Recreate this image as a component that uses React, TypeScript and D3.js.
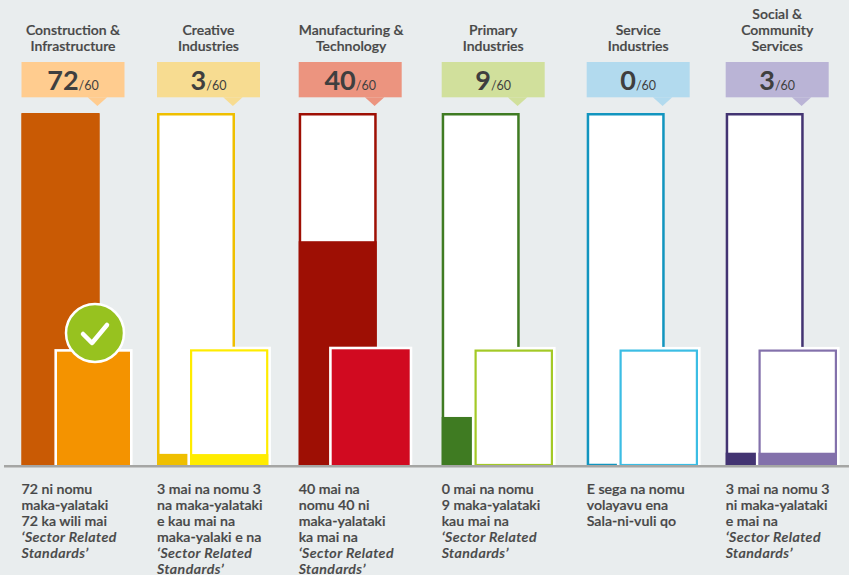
import React from "react";
import * as d3 from "d3";

const categories = ["Construction & Infrastructure", "Creative Industries", "Manufacturing & Technology", "Primary Industries", "Service Industries", "Social & Community Services"];
const headerLines = [["Construction &", "Infrastructure"], ["Creative", "Industries"], ["Manufacturing &", "Technology"], ["Primary", "Industries"], ["Service", "Industries"], ["Social &", "Community", "Services"]];
const scores = [72, 3, 40, 9, 0, 3];
const maxScore = 60;
// heights, in score units of the tall bar (0-60)
const backFill = [60, 1.9, 38.2, 8.2, 0, 2.1];
// short bar, full height = 60
const frontFill = [60, 5.7, 60, 0, 0, 6.4];
const descriptions = [
  [["72 ni nomu"], ["maka-yalataki"], ["72 ka wili mai"], ["‘Sector Related", 1], ["Standards’", 1]],
  [["3 mai na nomu 3"], ["na maka-yalataki"], ["e kau mai na"], ["maka-yalaki e na"], ["‘Sector Related", 1], ["Standards’", 1]],
  [["40 mai na"], ["nomu 40 ni"], ["maka-yalataki"], ["ka mai na"], ["‘Sector Related", 1], ["Standards’", 1]],
  [["0 mai na nomu"], ["9 maka-yalataki"], ["kau mai na"], ["‘Sector Related", 1], ["Standards’", 1]],
  [["E sega na nomu"], ["volayavu ena"], ["Sala-ni-vuli qo"]],
  [["3 mai na nomu 3"], ["ni maka-yalataki"], ["e mai na"], ["‘Sector Related", 1], ["Standards’", 1]],
] as [string, number?][][];

const calloutColors = ["#ffcc8f", "#f7dc91", "#ec947f", "#d1e09c", "#b2daee", "#bab4d6"];
const backColors = ["#c95a04", "#efbf00", "#9e0f04", "#3f7b22", "#1295bf", "#433472"];
const frontColors = ["#f49300", "#ffec00", "#d10a20", "#a3c926", "#3bbde4", "#8371ab"];

const backX = d3.scaleOrdinal<string, number>().domain(categories).range([21.5, 157, 298.7, 441.7, 586.7, 725.7]);
const frontX = d3.scaleOrdinal<string, number>().domain(categories).range([57, 190, 331.7, 474.5, 619.5, 758.5]);
const frontW = [73, 78.3, 78, 78.5, 78.5, 78.5];
const frontTopY = [351.7, 349.3, 349.3, 349.5, 349.5, 349.5];
const baseY = 465;
const yBack = d3.scaleLinear().domain([0, maxScore]).range([baseY, 113.5]);
const yFront = d3.scaleLinear().domain([0, maxScore]).range([baseY, 350]);

const BACK_W = 78;
const CALLOUT_W = 103;
const HALO = 2.6;
const SW = 2.2;
const FONT = "Lato, 'Noto Sans', sans-serif";
const INK = "#474747";

export default function App() {
  return (
    <svg width={849} height={575} style={{ position: "absolute", left: 0, top: 0, background: "#e9edee" }} fontFamily={FONT}>
      {categories.map((c, i) => {
        const bx = backX(c);
        const fx = frontX(c);
        const fw = frontW[i];
        const ftop = frontTopY[i];
        const full = frontFill[i] === maxScore;
        const ff = yFront(frontFill[i]);
        const by = yBack(backFill[i]);
        const tipX = bx + 75.9;
        const cx = bx + CALLOUT_W / 2;
        const n = headerLines[i].length;
        return (
          <g key={c}>
            {headerLines[i].map((t, k) => (
              <text key={k} x={cx + (i === 2 ? 1 : 0)} y={51 - (n - 1 - k) * 16} textAnchor="middle" fontSize={14} fontWeight={600} fill={INK} stroke={INK} strokeWidth={0.2}>{t}</text>
            ))}
            <rect x={bx} y={62} width={CALLOUT_W} height={35.3} fill={calloutColors[i]} />
            <path d={`M${tipX - 9.7},97.3L${tipX},106L${tipX + 9.7},97.3Z`} fill={calloutColors[i]} />
            <text x={cx} y={90} textAnchor="middle" fill="#3f3f3f">
              <tspan fontSize={27} fontWeight={700}>{scores[i]}</tspan>
              <tspan fontSize={12.5} fontWeight={400}>/{maxScore}</tspan>
            </text>

            <rect x={bx + 1.25} y={114.25} width={BACK_W - 2.5} height={baseY - 114.25} fill="#fff" stroke={backColors[i]} strokeWidth={2.5} />
            {backFill[i] > 0 && <rect x={bx} y={by} width={BACK_W} height={baseY - by} fill={backColors[i]} />}

            <rect x={fx - HALO} y={ftop - HALO} width={fw + 2 * HALO} height={baseY - ftop + HALO} fill="#fff" />
            {full ? (
              <rect x={fx} y={ftop} width={fw} height={baseY - ftop} fill={frontColors[i]} />
            ) : (
              <>
                <rect x={fx + SW / 2} y={ftop + SW / 2} width={fw - SW} height={baseY - ftop - SW / 2} fill="#fff" stroke={frontColors[i]} strokeWidth={SW} />
                {frontFill[i] > 0 && <rect x={fx} y={ff} width={fw} height={baseY - ff} fill={frontColors[i]} />}
              </>
            )}

            {descriptions[i].map(([t, it], k) => (
              <text key={k} x={bx} y={494 + k * 16} fontSize={14.2} fontWeight={600} fontStyle={it ? "italic" : "normal"} letterSpacing={it ? 0.45 : 0} fill={INK} stroke={INK} strokeWidth={0.2}>{t}</text>
            ))}
          </g>
        );
      })}
      <rect x={4} y={465} width={845} height={2.5} fill="#a5a6a4" />
      <circle cx={95} cy={333} r={29} fill="#97c21f" stroke="#fff" strokeWidth={2.5} />
      <path d="M83,334L92,343L107,325" fill="none" stroke="#fff" strokeWidth={4.5} strokeLinecap="round" strokeLinejoin="round" />
    </svg>
  );
}
